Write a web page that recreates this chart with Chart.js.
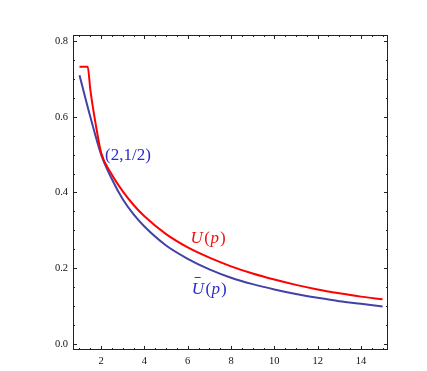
<!DOCTYPE html>
<html>
<head>
<meta charset="utf-8">
<script src="https://cdn.jsdelivr.net/npm/chart.js@4"></script>
<style>
  body { margin: 0; background: #fff; }
  canvas { display: block; }
</style>
</head>
<body>
<canvas id="chart" width="427" height="371"></canvas>
<script>
// data
const redX = [1, 1.38, 1.5, 1.75, 2, 2.5, 3, 3.5, 4, 5, 6, 7, 8, 9, 10, 11, 12, 13, 14, 15];
const redY = [0.732, 0.732, 0.672, 0.58, 0.505, 0.447, 0.403, 0.367, 0.337, 0.29, 0.255, 0.228, 0.205, 0.186, 0.17, 0.156, 0.144, 0.134, 0.125, 0.118];
const blueX = [1, 1.5, 2, 2.5, 3, 3.5, 4, 5, 6, 7, 8, 9, 10, 11, 12, 13, 14, 15];
const blueY = [0.71, 0.6, 0.5, 0.435, 0.382, 0.342, 0.31, 0.26, 0.225, 0.197, 0.175, 0.158, 0.144, 0.132, 0.122, 0.113, 0.106, 0.099];
const xTicks = [2, 4, 6, 8, 10, 12, 14];
const yTicks = [0, 0.2, 0.4, 0.6, 0.8];

const serif = '"Liberation Serif", "DejaVu Serif", serif';

function toPoints(xs, ys) {
    return xs.map((x, i) => ({ x: x, y: ys[i] }));
}

// frame with inward ticks on all four sides (Mathematica style)
const framePlugin = {
    id: "frame",
    afterDraw(chart) {
        const ctx = chart.ctx;
        const a = chart.chartArea;
        const xs = chart.scales.x;
        const ys = chart.scales.y;
        ctx.save();
        ctx.strokeStyle = "#222";
        ctx.lineWidth = 1;
        ctx.strokeRect(a.left + 0.5, a.top + 0.5, a.right - a.left - 1, a.bottom - a.top - 1);

        ctx.beginPath();
        for (let v = 1; v <= 15; v += 0.5) {
            const len = xTicks.includes(v) ? 4 : 2;
            const px = Math.round(xs.getPixelForValue(v)) + 0.5;
            ctx.moveTo(px, a.bottom);
            ctx.lineTo(px, a.bottom - len);
            ctx.moveTo(px, a.top);
            ctx.lineTo(px, a.top + len);
        }
        for (let i = 0; i <= 16; i++) {
            const v = i * 0.05;
            const len = i % 4 === 0 ? 4 : 2;
            const py = Math.round(ys.getPixelForValue(v)) + 0.5;
            ctx.moveTo(a.left, py);
            ctx.lineTo(a.left + len, py);
            ctx.moveTo(a.right, py);
            ctx.lineTo(a.right - len, py);
        }
        ctx.stroke();

        // curve labels
        ctx.textBaseline = "alphabetic";
        ctx.textAlign = "left";
        ctx.fillStyle = "#2b2bcc";
        ctx.font = "17px " + serif;
        ctx.fillText("(2,1/2)", xs.getPixelForValue(2.18), ys.getPixelForValue(0.487));

        function drawU(x, y, color, bar) {
            ctx.fillStyle = color;
            ctx.strokeStyle = color;
            let px = x;
            ctx.font = "italic 17px " + serif;
            ctx.fillText("U", px, y);
            const uw = ctx.measureText("U").width;
            if (bar) {
                ctx.lineWidth = 1;
                ctx.beginPath();
                ctx.moveTo(px + 3, y - 16.5);
                ctx.lineTo(px + 9, y - 16.5);
                ctx.stroke();
            }
            px += uw + 1.5;
            ctx.font = "17px " + serif;
            ctx.fillText("(", px, y);
            px += ctx.measureText("(").width + 0.5;
            ctx.font = "italic 17px " + serif;
            ctx.fillText("p", px, y);
            px += ctx.measureText("p").width + 1;
            ctx.font = "17px " + serif;
            ctx.fillText(")", px, y);
        }
        drawU(xs.getPixelForValue(6.13), ys.getPixelForValue(0.266), "#ee1111", false);
        drawU(xs.getPixelForValue(6.18), ys.getPixelForValue(0.132), "#2b2bcc", true);
        ctx.restore();
    },
};

new Chart(document.getElementById("chart"), {
    type: "line",
    data: {
        datasets: [
            {
                label: "U(p)",
                data: toPoints(redX, redY),
                borderColor: "#ff0000",
                borderWidth: 2,
                pointRadius: 0,
                fill: false,
                cubicInterpolationMode: "monotone",
            },
            {
                label: "Ū(p)",
                data: toPoints(blueX, blueY),
                borderColor: "#4242a6",
                borderWidth: 2,
                pointRadius: 0,
                fill: false,
                cubicInterpolationMode: "monotone",
            },
        ],
    },
    options: {
        responsive: false,
        animation: false,
        layout: { padding: { left: 0, top: 35, right: 39, bottom: 0 } },
        plugins: {
            legend: { display: false },
            tooltip: { enabled: false },
        },
        scales: {
            x: {
                type: "linear",
                min: 0.7,
                max: 15.25,
                grid: { display: false, drawTicks: false },
                border: { display: false },
                afterBuildTicks(scale) {
                    scale.ticks = xTicks.map((v) => ({ value: v }));
                },
                afterFit(scale) {
                    scale.height = 21;
                },
                ticks: {
                    padding: 5,
                    color: "#111",
                    font: { family: serif, size: 10.5 },
                    callback: (v) => String(v),
                },
            },
            y: {
                type: "linear",
                min: -0.016,
                max: 0.816,
                grid: { display: false, drawTicks: false },
                border: { display: false },
                afterBuildTicks(scale) {
                    scale.ticks = yTicks.map((v) => ({ value: v }));
                },
                afterFit(scale) {
                    scale.width = 73;
                },
                ticks: {
                    padding: 5,
                    color: "#111",
                    font: { family: serif, size: 10.5 },
                    callback: (v) => Number(v).toFixed(1),
                },
            },
        },
    },
    plugins: [framePlugin],
});
</script>
</body>
</html>
